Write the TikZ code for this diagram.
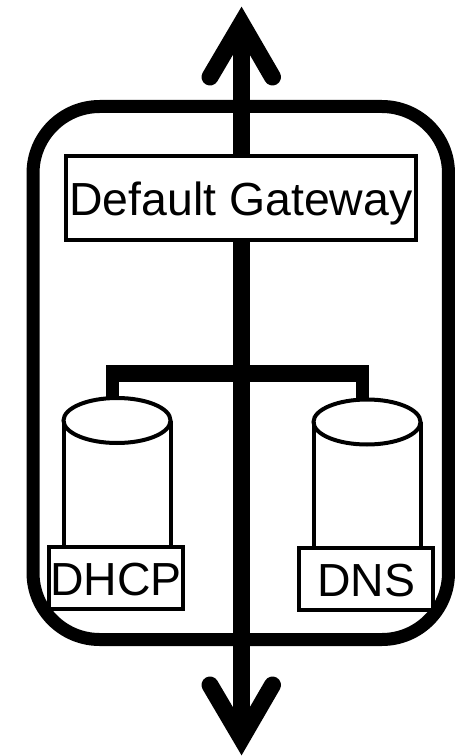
\documentclass[tikz,border=0pt]{standalone}
\usepackage{fontspec}
\setmainfont{Liberation Sans}
\usetikzlibrary{shapes.geometric}

\begin{document}
\begin{tikzpicture}[x=0.75pt, y=-0.75pt, every node/.style={outer sep=0pt},
    framebox/.style={rectangle, draw, line width=9.75pt, rounded corners=50pt, minimum width=311.6pt, minimum height=399.75pt},
    labelbox/.style={rectangle, draw, line width=3pt, fill=white, inner sep=0pt, text height=26.4pt, text depth=0pt, font=\fontsize{34.8}{40}\selectfont},
    storetop/.style={ellipse, draw, line width=3pt, fill=white, inner sep=0pt, minimum width=80.25pt, minimum height=33.75pt},
    storeside/.style={line width=3pt},
    wire/.style={line width=12.75pt},
    stub/.style={line width=9.75pt}]
    \useasboundingbox (0,0) rectangle (459,756);

    % Enclosure
    \node[framebox] (frame) at (240.75,373) {};

    % Through line with its two heads
    \coordinate (uptip) at (241.5,23.5);
    \coordinate (upl) at (210,77);
    \coordinate (upr) at (272.5,77);
    \coordinate (downtip) at (241.5,738.5);
    \coordinate (downl) at (210,685);
    \coordinate (downr) at (272.5,685);
    \draw[wire] (downtip) -- (uptip);
    \draw[wire, line cap=round, line join=miter] (upl) -- (uptip) -- (upr);
    \draw[wire, line cap=round, line join=miter] (downl) -- (downtip) -- (downr);

    % Labels
    \node[labelbox, minimum width=262.5pt, minimum height=63pt] (gateway) at (241,198) {Default Gateway};
    \node[labelbox, minimum width=100.5pt, minimum height=46.5pt] (dhcplabel) at (116,578) {DHCP};
    \node[labelbox, minimum width=100.5pt, minimum height=46.5pt] (dnslabel) at (366,579) {DNS};

    % Servers
    \node[storetop] (dhcp) at (117,420.5) {};
    \node[storetop] (dns) at (367,422) {};
    \draw[storeside] (dhcp.west) -- (dhcp.west |- dhcplabel.north);
    \draw[storeside] (dhcp.east) -- (dhcp.east |- dhcplabel.north);
    \draw[storeside] (dns.west) -- (dns.west |- dnslabel.north);
    \draw[storeside] (dns.east) -- (dns.east |- dnslabel.north);

    % Branch to the servers
    \coordinate (busl) at (106,373);
    \coordinate (busr) at (369,373);
    \coordinate (stubl) at (112.5,370);
    \coordinate (stubr) at (362.5,370);
    \draw[wire] (busl) -- (busr);
    \draw[stub] (stubl) -- (stubl |- dhcp.north);
    \draw[stub] (stubr) -- (stubr |- dns.north);
\end{tikzpicture}
\end{document}
